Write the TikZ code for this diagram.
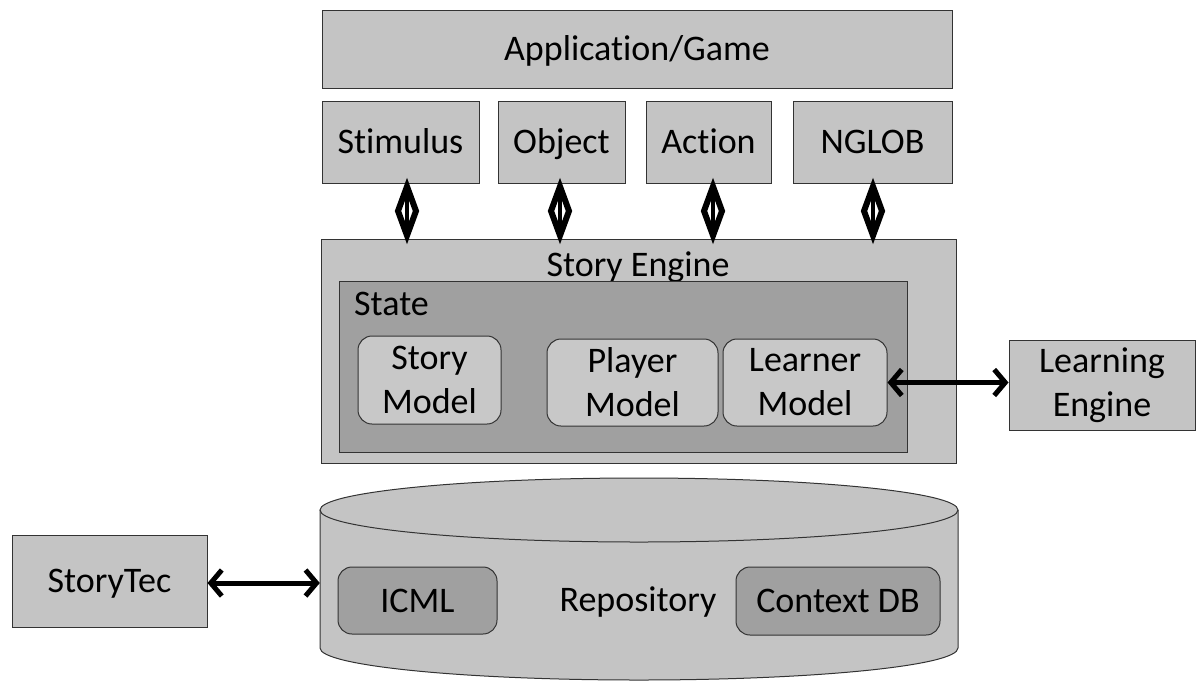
\documentclass[tikz,border=0pt]{standalone}
\usepackage{fontspec}
\setmainfont{Carlito}[Ligatures=NoCommon]
\usetikzlibrary{arrows.meta,calc}
\definecolor{lg}{RGB}{196,196,196}
\definecolor{dg}{RGB}{160,160,160}
\definecolor{mg}{RGB}{200,200,200}
\tikzset{
  txt/.style={font=\fontsize{36}{44}\selectfont, text=black},
  box/.style={txt, draw=black!80, line width=1pt, fill=lg, inner sep=0pt, align=center},
  one/.style={text height=23pt, text depth=0pt},
  rbox/.style={box, rounded corners=14pt},
  vd/.style={line width=6pt, line join=miter, fill=white},
  hdarrow/.style={line width=5pt, {Straight Barb[length=11pt,width=26pt]}-{Straight Barb[length=11pt,width=26pt]}},
}
\begin{document}
\begin{tikzpicture}[x=1pt,y=-1pt]
\useasboundingbox (0,0) rectangle (1198,681);
% top
\node[box, one, minimum width=630pt, minimum height=78pt] (app) at (637,49) {Application/Game};
\node[box, one, minimum width=157pt, minimum height=82pt] (stim) at (400.5,142) {Stimulus};
\node[box, one, minimum width=127pt, minimum height=82pt] (obj) at (561.5,142) {Object};
\node[box, one, minimum width=125pt, minimum height=82pt] (act) at (708.5,142) {Action};
\node[box, one, minimum width=159pt, minimum height=82pt] (nglob) at (872.5,142) {NGLOB};
% story engine
\node[box, minimum width=635pt, minimum height=224pt] (se) at (638.5,351) {};
\node[txt, one, inner sep=0pt] (selbl) at (638,265) {Story Engine};
\node[box, fill=dg, minimum width=568pt, minimum height=171pt] (state) at (623,366.5) {};
\node[txt, one, anchor=west, inner sep=0pt] (statelbl) at (354,304) {State};
\node[rbox, fill=mg, minimum width=143pt, minimum height=88pt] (sm) at (429.5,380) {Story\\Model};
\node[rbox, fill=mg, minimum width=171pt, minimum height=87pt] (pm) at (632.5,382.5) {Player\\Model};
\node[rbox, fill=mg, minimum width=164pt, minimum height=87pt] (lm) at (805,382.5) {Learner\\Model};
\node[box, minimum width=186pt, minimum height=90pt] (le) at (1102,385) {Learning\\Engine};
% repository (cylinder)
\node[inner sep=0pt, minimum width=638pt, minimum height=203pt] (repo) at (639,579.5) {};
\fill[lg] (320,510) -- (320,648) arc[start angle=180,end angle=0,x radius=319,y radius=32]
  -- (958,510) arc[start angle=0,end angle=-180,x radius=319,y radius=32] -- cycle;
\draw[black!80, line width=1pt] (320,510) -- (320,648) arc[start angle=180,end angle=0,x radius=319,y radius=32] -- (958,510);
\draw[black!80, line width=1pt] (639,510) ellipse[x radius=319,y radius=32];
\node[txt, one, inner sep=0pt] (repolbl) at (638,600) {Repository};
\node[rbox, one, fill=dg, minimum width=159pt, minimum height=67pt] (icml) at (417.5,600.5) {ICML};
\node[rbox, one, fill=dg, minimum width=204pt, minimum height=68pt] (cdb) at (838,601) {Context DB};
\node[box, one, minimum width=195pt, minimum height=92pt] (st) at (109.5,581) {StoryTec};
% vertical double arrows
\foreach \src/\xx in {stim/407, obj/560, act/713, nglob/873}{
  \coordinate (t\src) at (\src.south -| \xx,0);
  \coordinate (b\src) at (se.north -| \xx,0);
  \draw[vd] ($(t\src)+(0,3)$) -- ($(t\src)!0.5!(b\src)+(9,0)$) -- ($(b\src)+(0,-3)$) -- ($(t\src)!0.5!(b\src)+(-9,0)$) -- cycle;
  \draw[line width=3.5pt] (t\src) -- (b\src);
}
\draw[hdarrow] (lm.east) -- (le.west |- lm.east);
\draw[hdarrow] (st.east |- 0,583) -- (repo.west |- 0,583);
\end{tikzpicture}
\end{document}
